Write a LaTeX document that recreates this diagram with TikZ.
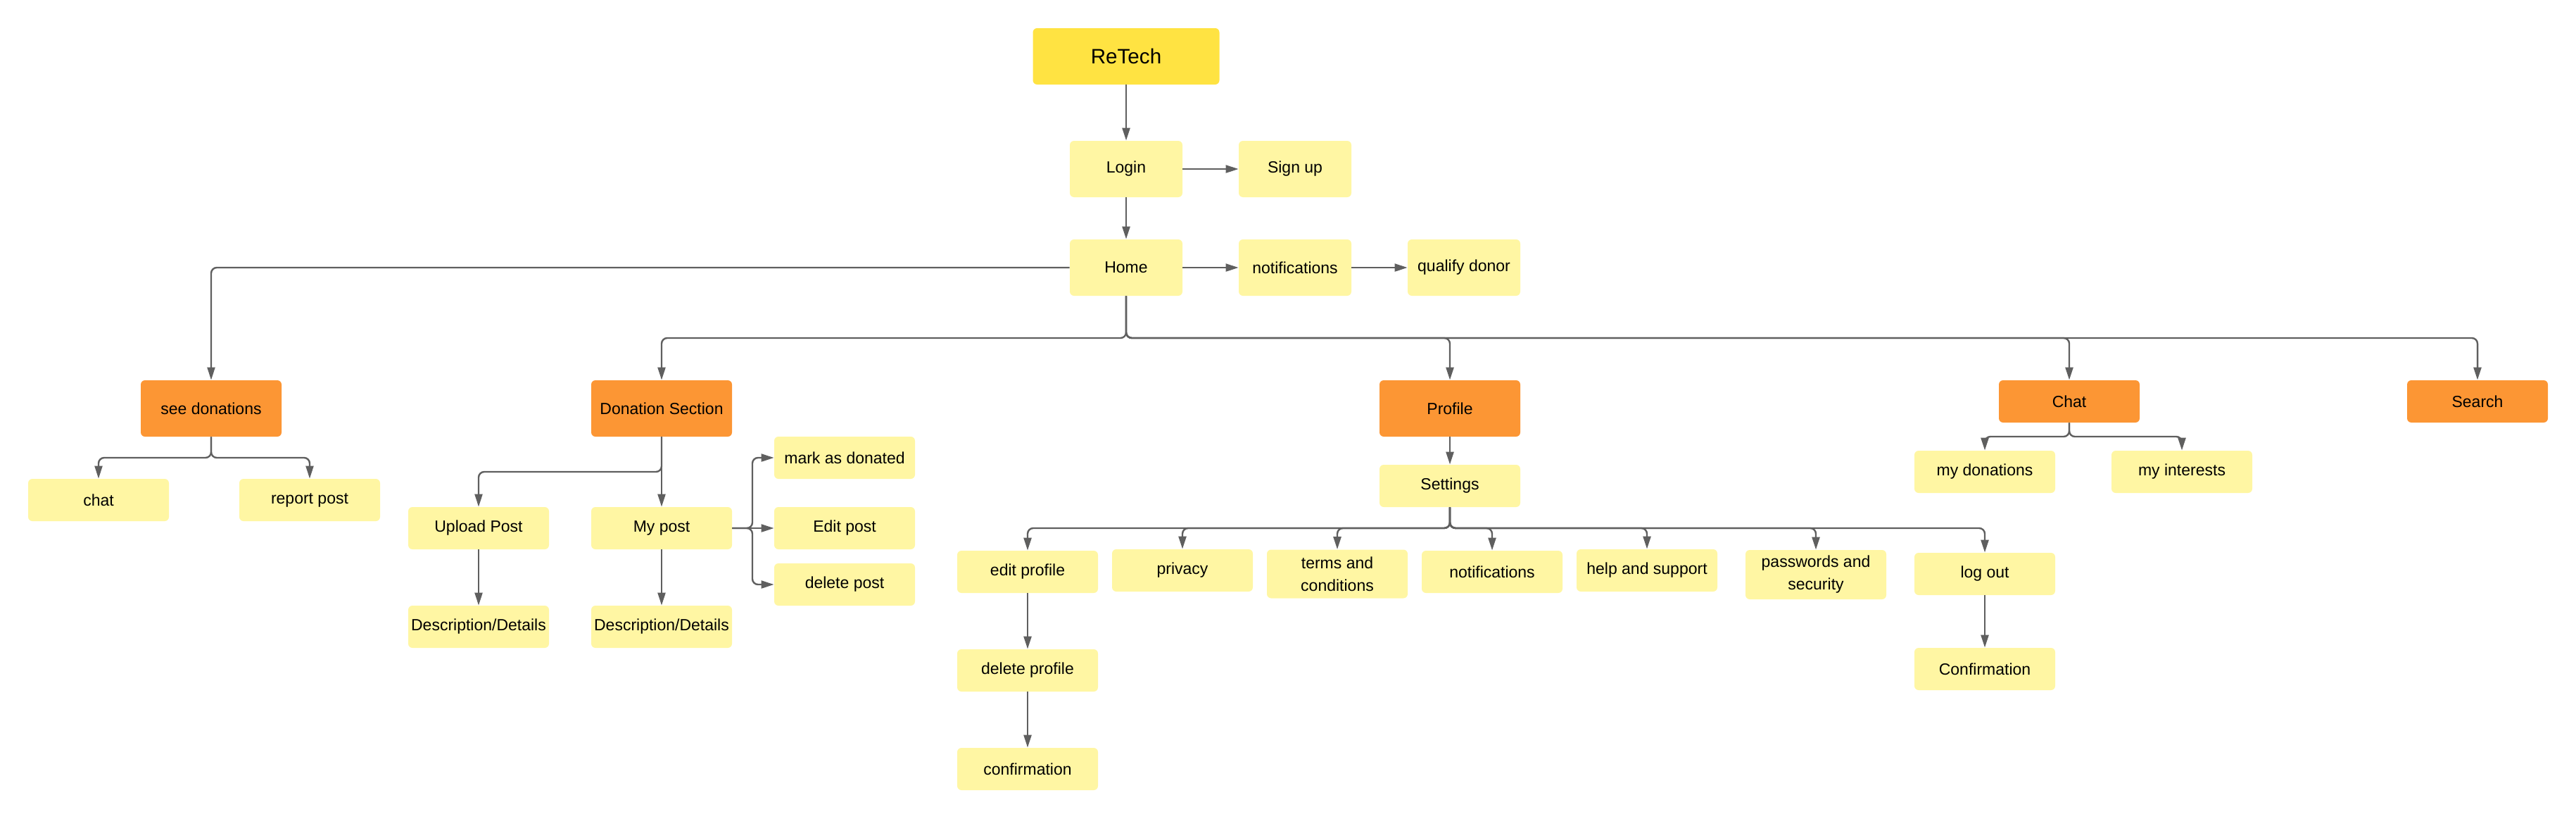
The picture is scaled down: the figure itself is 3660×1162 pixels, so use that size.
\documentclass[tikz,border=0pt]{standalone}
\usepackage{fontspec}
\setmainfont{Liberation Sans}
\usetikzlibrary{arrows.meta}
\definecolor{gold}{RGB}{255,227,66}
\definecolor{lite}{RGB}{255,246,163}
\definecolor{orng}{RGB}{252,150,52}
\definecolor{lgray}{RGB}{95,95,95}
\tikzset{
 box/.style={fill=lite, rounded corners=3pt, minimum width=100pt, minimum height=30pt, inner sep=0pt, align=center, font=\fontsize{11.5}{16}\selectfont},
 sbox/.style={box, minimum width=80pt, minimum height=40pt},
 obox/.style={box, fill=orng, minimum height=40pt},
 conn/.style={draw=lgray, line width=1.2pt, rounded corners=4pt, -{Triangle[length=9pt,width=5.5pt]}},
}
\begin{document}
\begin{tikzpicture}[x=0.5pt,y=-0.5pt]
\useasboundingbox (0,0) rectangle (3660,1162);
\node[box, fill=gold, minimum width=132.5pt, minimum height=40pt, font=\fontsize{14.8}{18}\selectfont] (retech) at (1600,80) {ReTech};
\node[sbox] (login) at (1600,240) {Login};
\node[sbox] (signup) at (1840,240) {Sign up};
\node[sbox] (home) at (1600,380) {Home};
\node[sbox] (notif) at (1840,380) {notifications};
\node[sbox] (qual) at (2080,380) {qualify donor};
\node[obox] (seedon) at (300,580) {see donations};
\node[obox] (dsec) at (940,580) {Donation Section};
\node[obox] (prof) at (2060,580) {Profile};
\node[box, fill=orng] (chatm) at (2940,570) {Chat};
\node[box, fill=orng] (search) at (3520,570) {Search};
\node[box] (chat) at (140,710) {chat};
\node[box] (report) at (440,710) {report post};
\node[box] (upload) at (680,750) {Upload Post};
\node[box] (mypost) at (940,750) {My post};
\node[box] (desc1) at (680,890) {Description/Details};
\node[box] (desc2) at (940,890) {Description/Details};
\node[box] (mark) at (1200,650) {mark as donated};
\node[box] (edit) at (1200,750) {Edit post};
\node[box] (delpost) at (1200,830) {delete post};
\node[box] (settings) at (2060,690) {Settings};
\node[box] (editp) at (1460,812) {edit profile};
\node[box] (priv) at (1680,810) {privacy};
\node[box, minimum height=34.5pt] (terms) at (1900,815) {terms and\\conditions};
\node[box] (notif2) at (2120,812) {notifications};
\node[box] (help) at (2340,810) {help and support};
\node[box, minimum height=35pt] (pass) at (2580,816) {passwords and\\security};
\node[box] (logout) at (2820,815) {log out};
\node[box] (conf2) at (2820,950) {Confirmation};
\node[box] (delp) at (1460,952) {delete profile};
\node[box] (conf1) at (1460,1092) {confirmation};
\node[box] (mydon) at (2820,670) {my donations};
\node[box] (myint) at (3100,670) {my interests};
% connectors
\draw[conn] (retech) -- (login);
\draw[conn] (login) -- (home);
\draw[conn] (login) -- (signup);
\draw[conn] (home) -- (notif);
\draw[conn] (notif) -- (qual);
\draw[conn] (home.west) -| (seedon.north);
\coordinate (hb) at (1600,480);
\foreach \t in {dsec,prof,chatm,search} \draw[conn] (home.south) -- (hb) -| (\t.north);
\coordinate (sb) at (300,650);
\foreach \t in {chat,report} \draw[conn] (seedon.south) -- (sb) -| (\t.north);
\coordinate (db) at (940,670);
\draw[conn] (dsec.south) -- (db) -| (upload.north);
\draw[conn] (dsec) -- (mypost);
\draw[conn] (upload) -- (desc1);
\draw[conn] (mypost) -- (desc2);
\coordinate (mb) at (1069,750);
\draw[conn] (mypost.east) -- (mb) |- (mark.west);
\draw[conn] (mypost) -- (edit);
\draw[conn] (mypost.east) -- (mb) |- (delpost.west);
\draw[conn] (prof) -- (settings);
\coordinate (stb) at (2060,750);
\foreach \t in {editp,priv,terms,notif2,help,pass,logout} \draw[conn] (settings.south) -- (stb) -| (\t.north);
\draw[conn] (editp) -- (delp);
\draw[conn] (delp) -- (conf1);
\coordinate (cb) at (2940,620);
\foreach \t in {mydon,myint} \draw[conn] (chatm.south) -- (cb) -| (\t.north);
\draw[conn] (logout) -- (conf2);
\end{tikzpicture}
\end{document}
